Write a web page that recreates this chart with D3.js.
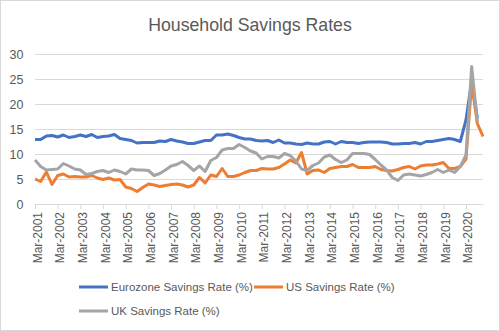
<!DOCTYPE html>
<html>
<head>
<meta charset="utf-8">
<script src="https://cdnjs.cloudflare.com/ajax/libs/d3/7.8.5/d3.min.js"></script>
<style>
  body { margin: 0; background: #fff; }
  svg { font-family: "Liberation Sans", Arial, sans-serif; }
  .grid line { stroke: #d9d9d9; }
  .grid path { display: none; }
  .xaxis path, .xaxis line { stroke: #d9d9d9; }
  .lbl { fill: #595959; }
</style>
</head>
<body>
<div id="chart"></div>
<script>
// quarters, Mar-2001 .. Dec-2020
var years = [2001, 2002, 2003, 2004, 2005, 2006, 2007, 2008, 2009, 2010,
             2011, 2012, 2013, 2014, 2015, 2016, 2017, 2018, 2019, 2020];
var months = ['Mar', 'Jun', 'Sep', 'Dec'];
var categories = [];
years.forEach(function(y) {
  months.forEach(function(m) { categories.push(m + '-' + y); });
});
var tickLabels = categories.filter(function(c) { return c.slice(0, 3) == 'Mar'; });
var yTicks = [0, 5, 10, 15, 20, 25, 30];

var seriesNames = ['Eurozone Savings Rate (%)', 'US Savings Rate (%)', 'UK Savings Rate (%)'];
var seriesColors = ['#4472C4', '#ED7D31', '#A5A5A5'];

var eurozone = [12.9, 12.9, 13.6, 13.7, 13.4, 13.8, 13.3, 13.5, 13.8, 13.5, 13.9, 13.3,
  13.5, 13.6, 13.9, 13.1, 12.9, 12.7, 12.2, 12.3, 12.3, 12.3, 12.6, 12.5,
  12.9, 12.6, 12.4, 12.1, 12.1, 12.4, 12.7, 12.7, 13.8, 13.8, 14.0, 13.7,
  13.3, 13.0, 13.0, 12.7, 12.6, 12.7, 12.3, 12.8, 12.2, 12.2, 12.0, 11.9,
  12.2, 12.0, 12.0, 12.4, 12.5, 12.0, 12.5, 12.3, 12.3, 12.1, 12.3, 12.4,
  12.4, 12.4, 12.3, 12.0, 12.0, 12.1, 12.1, 12.3, 12.0, 12.5, 12.5, 12.7,
  12.9, 13.1, 12.9, 12.5, 16.8, 24.6, 17.2];
var us = [5.0, 4.5, 6.4, 3.9, 5.7, 6.0, 5.4, 5.5, 5.4, 5.4, 5.7, 5.2,
  4.9, 5.2, 4.8, 4.9, 3.4, 3.1, 2.5, 3.3, 4.0, 3.8, 3.5, 3.7,
  3.9, 4.0, 3.8, 3.4, 3.8, 5.3, 4.2, 5.8, 5.5, 7.1, 5.5, 5.5,
  5.8, 6.3, 6.7, 6.7, 7.1, 7.0, 7.0, 7.3, 8.0, 8.8, 8.2, 10.3,
  6.0, 6.7, 6.8, 6.3, 7.1, 7.3, 7.5, 7.5, 7.9, 7.3, 7.3, 7.3,
  7.5, 6.9, 6.7, 6.6, 6.9, 7.3, 7.5, 7.0, 7.6, 7.8, 7.8, 8.0,
  8.3, 7.1, 7.1, 7.5, 9.0, 24.2, 16.1, 13.5];
var uk = [8.8, 7.5, 6.8, 6.9, 7.0, 8.1, 7.6, 7.0, 6.8, 5.9, 6.1, 6.5,
  6.7, 6.3, 6.8, 6.5, 6.0, 7.0, 6.8, 6.8, 6.7, 5.7, 6.1, 6.8,
  7.6, 7.9, 8.5, 7.7, 6.7, 7.6, 6.5, 8.7, 9.3, 10.8, 11.1, 11.1,
  11.9, 11.3, 10.6, 10.2, 9.0, 9.5, 9.5, 9.2, 10.1, 9.7, 8.6, 7.0,
  6.7, 7.7, 8.2, 9.4, 9.8, 8.9, 8.3, 8.8, 10.1, 10.1, 10.1, 9.9,
  8.9, 7.8, 6.8, 5.3, 4.7, 5.8, 6.0, 5.8, 5.6, 5.9, 6.3, 6.9,
  6.3, 6.8, 6.3, 7.5, 9.8, 27.5, 16.5];
var seriesData = [eurozone, us, uk];

var width = 500, height = 331;
var svg = d3.select('#chart').append('svg')
  .attr('width', width).attr('height', height);

svg.append('rect')
  .attr('x', 0.5).attr('y', 0.5)
  .attr('width', width - 1).attr('height', height - 1)
  .attr('fill', '#fff').attr('stroke', '#d9d9d9');

var x = d3.scalePoint().domain(categories).range([35, 483]);
var y = d3.scaleLinear().domain([0, 30]).range([204, 54]);

// title
svg.append('text').attr('class', 'lbl')
  .attr('x', 250).attr('y', 31)
  .attr('text-anchor', 'middle')
  .style('font-size', '17.7px')
  .text('Household Savings Rates');

// gridlines + y labels
svg.append('g').attr('class', 'grid')
  .attr('transform', 'translate(35,0)')
  .call(d3.axisLeft(y).tickValues(yTicks).tickSize(-448).tickFormat(''));

svg.selectAll('.ylbl').data(yTicks).enter().append('text')
  .attr('class', 'lbl ylbl')
  .attr('x', 23.5).attr('y', function(d) { return y(d); })
  .attr('dy', '0.36em')
  .attr('text-anchor', 'end')
  .style('font-size', '12.5px')
  .text(function(d) { return d; });

// x axis
var xAxis = svg.append('g').attr('class', 'xaxis')
  .attr('transform', 'translate(0,204)')
  .call(d3.axisBottom(x).tickValues(tickLabels).tickSize(5).tickSizeOuter(0));
xAxis.selectAll('text')
  .attr('class', 'lbl')
  .attr('transform', 'rotate(-90)')
  .attr('x', -8).attr('y', 0).attr('dy', '0.5em')
  .style('text-anchor', 'end')
  .style('font-size', '12px')
  .style('font-family', '"Liberation Sans", Arial, sans-serif');

// lines
var line = d3.line()
  .x(function(d, i) { return x(categories[i]); })
  .y(function(d) { return y(d); });

seriesData.forEach(function(s, k) {
  svg.append('path')
    .datum(s)
    .attr('fill', 'none')
    .attr('stroke', seriesColors[k])
    .attr('stroke-width', 3)
    .attr('stroke-linejoin', 'round')
    .attr('d', line);
});

// legend
var legendPos = [[79, 287], [254, 287], [79, 311]];
seriesNames.forEach(function(name, k) {
  var p = legendPos[k];
  svg.append('line')
    .attr('x1', p[0]).attr('x2', p[0] + 29)
    .attr('y1', p[1]).attr('y2', p[1])
    .attr('stroke', seriesColors[k]).attr('stroke-width', 3);
  svg.append('text').attr('class', 'lbl')
    .attr('x', p[0] + 32).attr('y', p[1])
    .attr('dy', '0.36em')
    .style('font-size', '11.5px')
    .text(name);
});
</script>
</body>
</html>
